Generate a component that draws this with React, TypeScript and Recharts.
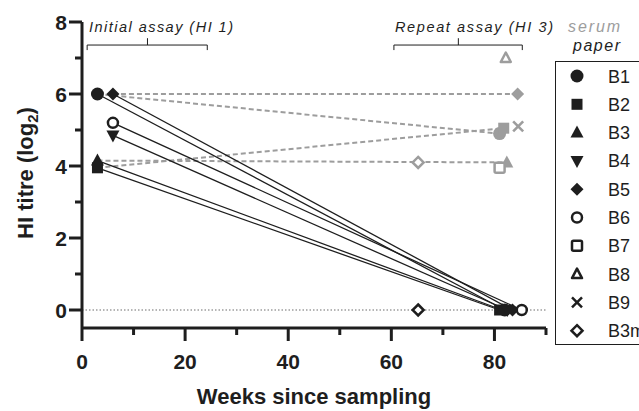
import { ScatterChart, Scatter, XAxis, YAxis, ReferenceLine } from "recharts";

const W = 639;
const H = 411;
const FONT = '"Liberation Sans", Arial, Helvetica, sans-serif';
const BLACK = "#1e1e1e";
const GREY = "#9d9d9d";

const BIRDS = ["B1", "B2", "B3", "B4", "B5", "B6", "B7", "B8", "B9", "B3m"];

// Initial assay (HI 1), black: titre at sampling and when re-tested ~80 weeks on
const HI1_BIRDS = ["B1", "B2", "B3", "B4", "B5", "B6"];
const HI1_WEEK = [3, 3, 3, 6, 6, 6];
const HI1_TITRE = [6, 3.95, 4.15, 4.85, 6, 5.2];
const HI1_LATER_WEEK = [82, 81, 81.5, 82.5, 83.5, 85.3];
const HI1_LATER_TITRE = [0, 0, 0, 0, 0, 0];
const B3M_WEEK = [65.2];
const B3M_TITRE = [0];

// Repeat assay (HI 3) on serum paper, grey
const HI3_BIRDS = ["B1", "B2", "B3", "B5", "B7", "B8", "B9", "B3m"];
const HI3_WEEK = [81, 81.8, 82.4, 84.5, 81, 82.2, 84.6, 65.2];
const HI3_TITRE = [4.9, 5.05, 4.1, 6, 3.95, 7, 5.1, 4.1];
// grey dashed links from the initial result to the serum paper result
const LINKED = ["B1", "B2", "B3", "B5"];

const X_TICKS = [0, 10, 20, 30, 40, 50, 60, 70, 80, 90];
const Y_TICKS = [0, 1, 2, 3, 4, 5, 6, 7, 8];

const MARKER: Record<string, { shape: string; open: boolean }> = {
  B1: { shape: "circle", open: false },
  B2: { shape: "square", open: false },
  B3: { shape: "triangle", open: false },
  B4: { shape: "triangleDown", open: false },
  B5: { shape: "diamond", open: false },
  B6: { shape: "circle", open: true },
  B7: { shape: "square", open: true },
  B8: { shape: "triangle", open: true },
  B9: { shape: "cross", open: true },
  B3m: { shape: "diamond", open: true },
};

function Marker({ kind, cx, cy, color }: { kind: string; cx: number; cy: number; color: string }) {
  const m = MARKER[kind];
  const fill = m.open ? "#fff" : color;
  const sw = m.open ? 2.5 : 0;
  switch (m.shape) {
    case "circle":
      return <circle cx={cx} cy={cy} r={m.open ? 5 : 6.5} fill={fill} stroke={color} strokeWidth={sw} />;
    case "square":
      return m.open ? (
        <rect x={cx - 5} y={cy - 5} width={10} height={10} rx={1.5} fill={fill} stroke={color} strokeWidth={sw} />
      ) : (
        <rect x={cx - 5.5} y={cy - 5.5} width={11} height={11} fill={fill} />
      );
    case "triangle":
      return m.open ? (
        <polygon points={`${cx},${cy - 5.5} ${cx + 5},${cy + 4} ${cx - 5},${cy + 4}`} fill={fill} stroke={color} strokeWidth={sw} strokeLinejoin="round" />
      ) : (
        <polygon points={`${cx},${cy - 7} ${cx + 6.5},${cy + 5} ${cx - 6.5},${cy + 5}`} fill={fill} />
      );
    case "triangleDown":
      return <polygon points={`${cx},${cy + 7} ${cx + 6.5},${cy - 5} ${cx - 6.5},${cy - 5}`} fill={fill} />;
    case "diamond":
      return m.open ? (
        <polygon points={`${cx},${cy - 5.5} ${cx + 5.5},${cy} ${cx},${cy + 5.5} ${cx - 5.5},${cy}`} fill={fill} stroke={color} strokeWidth={sw} />
      ) : (
        <polygon points={`${cx},${cy - 6.5} ${cx + 6.5},${cy} ${cx},${cy + 6.5} ${cx - 6.5},${cy}`} fill={fill} />
      );
    default:
      return (
        <g stroke={color} strokeWidth={2.5}>
          <line x1={cx - 5} y1={cy - 5} x2={cx + 5} y2={cy + 5} />
          <line x1={cx - 5} y1={cy + 5} x2={cx + 5} y2={cy - 5} />
        </g>
      );
  }
}

function XTick({ x, y, payload }: any) {
  const v = payload.value;
  const major = v % 20 === 0;
  return (
    <g>
      <line x1={x} x2={x} y1={y} y2={y + (major ? 13 : 7)} stroke={BLACK} strokeWidth={3} />
      {major && (
        <text x={x} y={y + 41} textAnchor="middle" fontSize={21} fontWeight="bold" fill={BLACK} fontFamily={FONT}>
          {v}
        </text>
      )}
    </g>
  );
}

function YTick({ x, y, payload }: any) {
  const v = payload.value;
  const major = v % 2 === 0;
  return (
    <g>
      <line x1={x - (major ? 13 : 7)} x2={x} y1={y} y2={y} stroke={BLACK} strokeWidth={3} />
      {major && (
        <text x={x - 15} y={y + 7.5} textAnchor="end" fontSize={21} fontWeight="bold" fill={BLACK} fontFamily={FONT}>
          {v}
        </text>
      )}
    </g>
  );
}

const bracket = (x0: number, x1: number, mid: number) => [
  [{ x: x0, y: 7.22 }, { x: x0, y: 7.36 }],
  [{ x: x0, y: 7.36 }, { x: x1, y: 7.36 }],
  [{ x: x1, y: 7.36 }, { x: x1, y: 7.22 }],
  [{ x: mid, y: 7.36 }, { x: mid, y: 7.55 }],
];

export default function App() {
  const brackets = [...bracket(1, 24.3, 12.7), ...bracket(60.5, 85.4, 73)];
  return (
    <div style={{ position: "absolute", left: 0, top: 0, width: W, height: H, overflow: "hidden", background: "#fff", fontFamily: FONT }}>
      <ScatterChart width={W} height={H} margin={{ top: 22, right: 93, bottom: 0, left: 0 }}>
        <XAxis
          type="number"
          dataKey="x"
          domain={[0, 90]}
          ticks={X_TICKS}
          interval={0}
          height={83}
          tickSize={0}
          tickMargin={0}
          tickLine={false}
          axisLine={{ stroke: BLACK, strokeWidth: 3 }}
          tick={(p: any) => <XTick {...p} />}
        />
        <YAxis
          type="number"
          dataKey="y"
          domain={[-0.5, 8]}
          ticks={Y_TICKS}
          interval={0}
          width={82}
          tickSize={0}
          tickMargin={0}
          tickLine={false}
          axisLine={{ stroke: BLACK, strokeWidth: 3 }}
          tick={(p: any) => <YTick {...p} />}
        />
        {brackets.map((seg, i) => (
          <ReferenceLine key={"br" + i} segment={seg} stroke={BLACK} strokeWidth={1} />
        ))}
        {LINKED.map((b) => {
          const i = HI1_BIRDS.indexOf(b);
          const j = HI3_BIRDS.indexOf(b);
          return (
            <Scatter
              key={"dash" + b}
              data={[
                { x: HI1_WEEK[i], y: HI1_TITRE[i] },
                { x: HI3_WEEK[j], y: HI3_TITRE[j] },
              ]}
              line={{ stroke: GREY, strokeWidth: 2, strokeDasharray: "5 3" }}
              shape={() => <g />}
              isAnimationActive={false}
            />
          );
        })}
        {HI1_BIRDS.map((b, i) => (
          <Scatter
            key={"hi1" + b}
            data={[
              { x: HI1_WEEK[i], y: HI1_TITRE[i] },
              { x: HI1_LATER_WEEK[i], y: HI1_LATER_TITRE[i] },
            ]}
            line={{ stroke: BLACK, strokeWidth: 1.3 }}
            shape={(p: any) => <Marker kind={b} cx={p.cx} cy={p.cy} color={BLACK} />}
            isAnimationActive={false}
          />
        ))}
        <ReferenceLine y={0} stroke={GREY} strokeWidth={1.5} strokeDasharray="1.5 2" />
        <Scatter
          data={B3M_WEEK.map((x, i) => ({ x, y: B3M_TITRE[i] }))}
          shape={(p: any) => <Marker kind="B3m" cx={p.cx} cy={p.cy} color={BLACK} />}
          isAnimationActive={false}
        />
        {HI3_BIRDS.map((b, i) => (
          <Scatter
            key={"hi3" + b}
            data={[{ x: HI3_WEEK[i], y: HI3_TITRE[i] }]}
            shape={(p: any) => <Marker kind={b} cx={p.cx} cy={p.cy} color={GREY} />}
            isAnimationActive={false}
          />
        ))}
      </ScatterChart>
      <svg width={W} height={H} style={{ position: "absolute", left: 0, top: 0, pointerEvents: "none" }} fontFamily={FONT}>
        <text x={89} y={32} fontSize={14.5} fontStyle="italic" fill={BLACK} textLength={144} lengthAdjust="spacing">
          Initial assay (HI 1)
        </text>
        <text x={395} y={32} fontSize={14.5} fontStyle="italic" fill={BLACK} textLength={158} lengthAdjust="spacing">
          Repeat assay (HI 3)
        </text>
        <text x={568} y={32} fontSize={16} fontStyle="italic" fill={GREY} textLength={52} lengthAdjust="spacing">
          serum
        </text>
        <text x={573} y={51} fontSize={16} fontStyle="italic" fill={BLACK} textLength={47} lengthAdjust="spacing">
          paper
        </text>
        <text transform="translate(33,173) rotate(-90)" textAnchor="middle" fontSize={22} fontWeight="bold" fill={BLACK}>
          HI titre (log<tspan fontSize={15} dy={5}>2</tspan>
          <tspan dy={-5}>)</tspan>
        </text>
        <text x={314} y={404} textAnchor="middle" fontSize={22} fontWeight="bold" fill={BLACK}>
          Weeks since sampling
        </text>
        <rect x={555.5} y={61.5} width={120} height={283} fill="none" stroke={BLACK} strokeWidth={1} />
        {BIRDS.map((b, i) => {
          const cy = 76 + i * 28.3;
          return (
            <g key={"lg" + b}>
              <Marker kind={b} cx={577} cy={cy} color={BLACK} />
              <text x={608} y={cy + 6.5} fontSize={18} fill={BLACK}>
                {b}
              </text>
            </g>
          );
        })}
      </svg>
    </div>
  );
}
